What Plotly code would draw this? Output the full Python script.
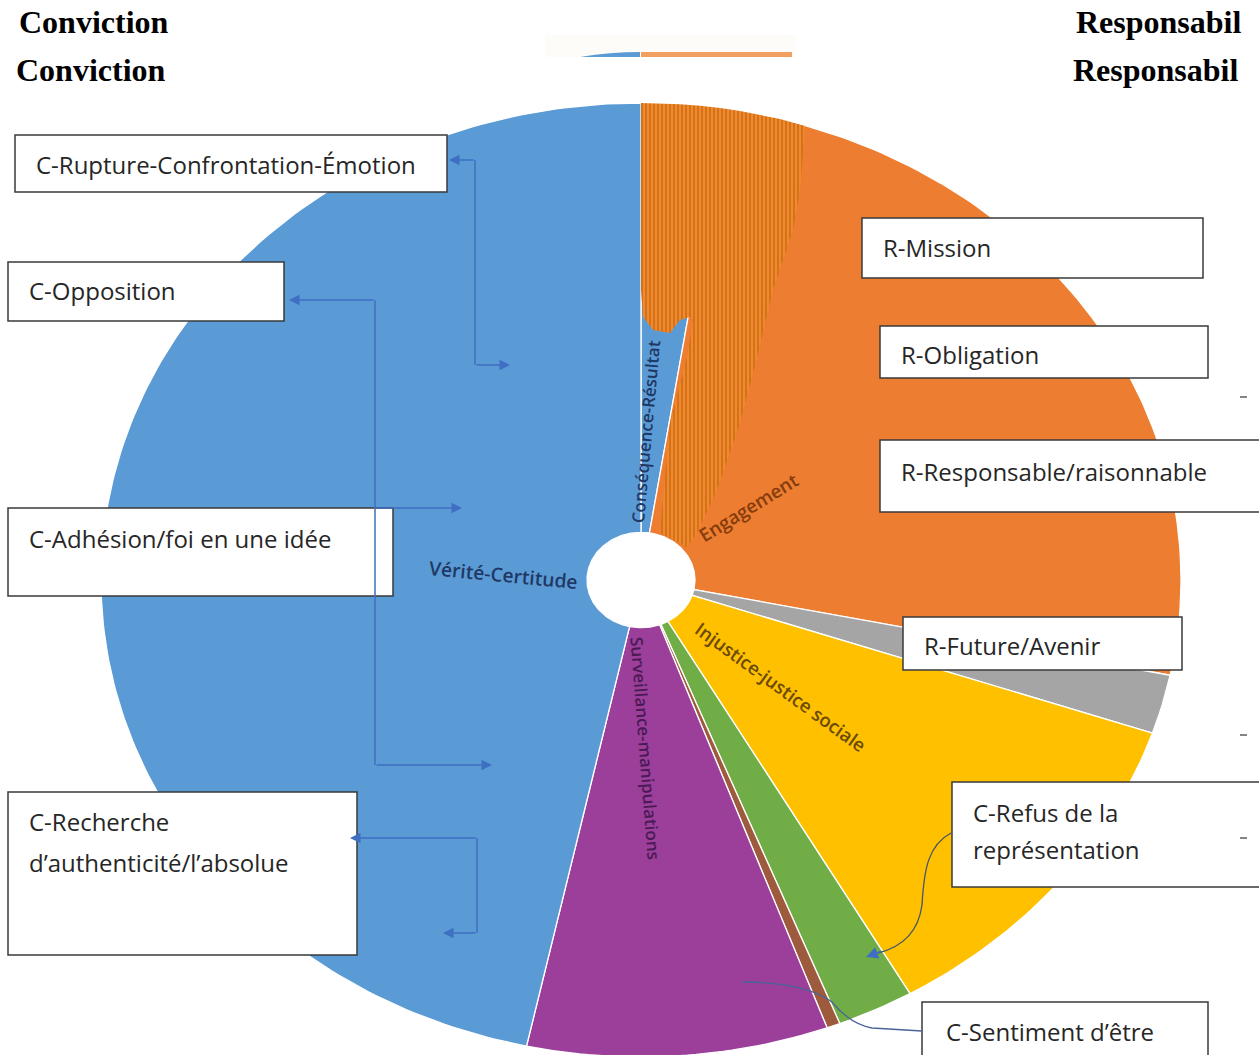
import numpy as np
import plotly.graph_objects as go

# ---------------- data ----------------
categories = ["Conséquence-Résultat", "Engagement", "R-Future/Avenir",
              "Injustice-justice sociale", "C-Refus de la représentation",
              "C-Sentiment d’être", "Surveillance-manipulations", "Vérité-Certitude"]
values = [2.5, 25.7, 2.0, 11.5, 2.3, 0.4, 9.0, 46.6]
slice_labels = ["Conséquence-Résultat", "Engagement", "", "Injustice-justice sociale",
                "", "", "Surveillance-manipulations", "Vérité-Certitude"]
slice_colors = ["#5B9BD5", "#ED7D31", "#A5A5A5", "#FFC000", "#70AD47", "#9E5A3C", "#9B3F9B", "#5B9BD5"]
label_colors = ["#1F3864", "#843C0C", "#404040", "#6B4A0A", "#375623", "#5A2A10", "#4B1A55", "#1F3864"]

box_texts_left = ["C-Rupture-Confrontation-Émotion", "C-Opposition", "C-Adhésion/foi en une idée",
                  "C-Recherche", "d’authenticité/l’absolue"]
box_texts_right = ["R-Mission", "R-Obligation", "R-Responsable/raisonnable", "R-Future/Avenir",
                   "C-Refus de la", "représentation", "C-Sentiment d’être"]
header_left = "Conviction"
header_right = "Responsabil"

# ---------------- geometry / style ----------------
W, H = 1259, 1055
CX, CY, RX, RY = 641, 580, 540, 477
HOLE = 0.1
LABEL_PAD = 6
BOX_FONT = dict(family="Open Sans", size=24, color="#262626")
PIE_FONT = "Open Sans"
PIE_FONT_SIZE = 17
BRACKET = "#3F6FC2"

fig = go.Figure()

total = float(sum(values))
cum = np.concatenate([[0.0], np.cumsum(values)]) / total * 2 * np.pi


def ell(t, f=1.0):
    return CX + RX * f * np.sin(t), CY - RY * f * np.cos(t)


for i, cat in enumerate(categories):
    n = max(int((cum[i + 1] - cum[i]) / (2 * np.pi) * 400), 3)
    t = np.linspace(cum[i], cum[i + 1], n)
    xo, yo = ell(t)
    xi, yi = ell(t[::-1], HOLE)
    xs = np.concatenate([xo, xi, xo[:1]])
    ys = np.concatenate([yo, yi, yo[:1]])
    fig.add_trace(go.Scatter(x=xs, y=ys, mode="lines", fill="toself",
                             fillcolor=slice_colors[i],
                             line=dict(color="white", width=1.3),
                             hoverinfo="text", text=f"{cat}: {values[i]}",
                             showlegend=False))

# orange textured overlay (image artefact in the original)
tex_x = [641, 660, 680, 700, 720, 740, 760, 780, 805, 800, 793, 773, 757, 740, 717, 697, 687,
         660, 670, 687, 693, 690, 680, 670, 653, 643, 641, 641]
tex_y = [103, 103.5, 104.3, 105.8, 108, 111, 114.7, 119, 126, 190, 230, 290, 357, 423, 490, 533, 547,
         533, 423, 357, 320, 317, 320, 333, 330, 317, 290, 103]
fig.add_trace(go.Scatter(x=tex_x, y=tex_y, mode="lines", fill="toself",
                         fillcolor="#EF8628", line=dict(width=0, color="#EF8628"),
                         fillpattern=dict(shape="|", fgcolor="#A84A0A", bgcolor="#F08A2A",
                                          size=4, solidity=0.4),
                         hoverinfo="skip", showlegend=False))

annotations = []

# slice labels, radial, starting at the hole edge; the original picture is
# stretched horizontally, so horizontal text is widened accordingly
k = RX / RY
for i, lab in enumerate(slice_labels):
    if not lab:
        continue
    tm = (cum[i] + cum[i + 1]) / 2
    dx, dy = RX * np.sin(tm), -RY * np.cos(tm)
    nrm = np.hypot(dx, dy)
    ux, uy = dx / nrm, dy / nrm
    hx, hy = ell(tm, HOLE)
    px, py = hx + ux * LABEL_PAD, hy + uy * LABEL_PAD
    ang = np.degrees(np.arctan2(dy, dx))
    if ang > 90:
        ang -= 180
    elif ang < -90:
        ang += 180
    size = PIE_FONT_SIZE * (1 + (k - 1) * np.cos(np.radians(ang)) ** 2)
    xa = "left" if ux > 0.35 else ("right" if ux < -0.35 else "center")
    ya = "bottom" if uy < -0.35 else ("top" if uy > 0.35 else "middle")
    annotations.append(dict(x=px, y=py, xref="x", yref="y", text=lab, showarrow=False,
                            textangle=ang, xanchor=xa, yanchor=ya,
                            font=dict(family=PIE_FONT, size=size, color=label_colors[i], weight=600)))

shapes = []

# top thin artefact strip
shapes.append(dict(type="rect", x0=545, x1=796, y0=35, y1=57, xref="x", yref="y",
                   fillcolor="#FEFCF9", line=dict(width=0)))
shapes.append(dict(type="path", path="M 580,57 Q 610,52 640,52 L 640,57 Z", xref="x", yref="y",
                   fillcolor="#5B9BD5", line=dict(width=0)))
shapes.append(dict(type="rect", x0=641, x1=792, y0=52, y1=57, xref="x", yref="y",
                   fillcolor="#F2A060", line=dict(width=0)))

# boxes
boxes = [(15, 135, 447, 192), (8, 262, 284, 321), (8, 508, 393, 596), (8, 792, 357, 955),
         (862, 218, 1203, 278), (880, 326, 1208, 378), (880, 440, 1270, 512), (903, 617, 1182, 670),
         (952, 782, 1270, 887), (922, 1002, 1208, 1070)]
for (x0, y0, x1, y1) in boxes:
    shapes.append(dict(type="rect", x0=x0, y0=y0, x1=x1, y1=y1, xref="x", yref="y",
                       fillcolor="white", line=dict(color="#3A3A3A", width=1.5), layer="above"))

left_pos = [(34, 164), (27, 290), (27, 538), (27, 821), (27, 862)]
for txt, (x, y) in zip(box_texts_left, left_pos):
    annotations.append(dict(x=x, y=y, xref="x", yref="y", text=txt, showarrow=False,
                            xanchor="left", yanchor="middle", font=BOX_FONT))
right_pos = [(881, 247), (899, 354), (899, 471), (922, 645), (971, 812), (971, 849), (944, 1031)]
for txt, (x, y) in zip(box_texts_right, right_pos):
    annotations.append(dict(x=x, y=y, xref="x", yref="y", text=txt, showarrow=False,
                            xanchor="left", yanchor="middle", font=BOX_FONT))

# headers
HFONT = dict(family="Liberation Serif", size=32, color="black", weight="bold")
for (x, y) in [(17, 22), (14, 70)]:
    annotations.append(dict(x=x, y=y, xref="x", yref="y", text=header_left, showarrow=False,
                            xanchor="left", yanchor="middle", font=HFONT))
for (x, y) in [(1244, 22), (1241, 70)]:
    annotations.append(dict(x=x, y=y, xref="x", yref="y", text=header_right, showarrow=False,
                            xanchor="right", yanchor="middle", font=HFONT))

# brackets
for path in ["M 475,160 L 475,365", "M 375,300 L 375,765", "M 477,838 L 477,933"]:
    shapes.append(dict(type="path", path=path, xref="x", yref="y",
                       line=dict(color=BRACKET, width=1.5), layer="above"))
arrows = [((475, 160), (449, 160)), ((475, 365), (510, 365)),
          ((375, 300), (289, 300)), ((375, 508), (462, 508)), ((375, 765), (492, 765)),
          ((477, 838), (350, 838)), ((477, 933), (443, 933))]
for (tx, ty), (hx_, hy_) in arrows:
    annotations.append(dict(x=hx_, y=hy_, ax=tx, ay=ty, xref="x", yref="y", axref="x", ayref="y",
                            text="", showarrow=True, arrowhead=2, arrowsize=1.4, arrowwidth=1.5,
                            arrowcolor=BRACKET, standoff=0))

# curved pointers
shapes.append(dict(type="path", path="M 951,833 C 928,845 924,870 922,905 C 918,935 898,948 878,953",
                   xref="x", yref="y", line=dict(color="#44546A", width=1.3), layer="above"))
annotations.append(dict(x=866, y=957, ax=882, ay=951, xref="x", yref="y", axref="x", ayref="y",
                        text="", showarrow=True, arrowhead=2, arrowsize=1.6, arrowwidth=1.5,
                        arrowcolor="#3F6FC2", standoff=0))
shapes.append(dict(type="path", path="M 742,982 Q 805,982 832,1002 Q 850,1024 872,1028 L 922,1031",
                   xref="x", yref="y", line=dict(color="#4A6496", width=1.3), layer="above"))

# small dashes at right edge
for y in [397, 735, 838]:
    shapes.append(dict(type="line", x0=1240, x1=1247, y0=y, y1=y, xref="x", yref="y",
                       line=dict(color="#333333", width=1.2), layer="above"))

fig.update_layout(
    width=W, height=H, margin=dict(l=0, r=0, t=0, b=0),
    paper_bgcolor="white", plot_bgcolor="white",
    xaxis=dict(range=[0, W], visible=False, fixedrange=True),
    yaxis=dict(range=[H, 0], visible=False, fixedrange=True),
    shapes=shapes, annotations=annotations, showlegend=False,
)

fig.write_html("out.html", config={"displayModeBar": False},
               post_script="document.body.style.margin='0px';document.body.style.overflow='hidden';")
